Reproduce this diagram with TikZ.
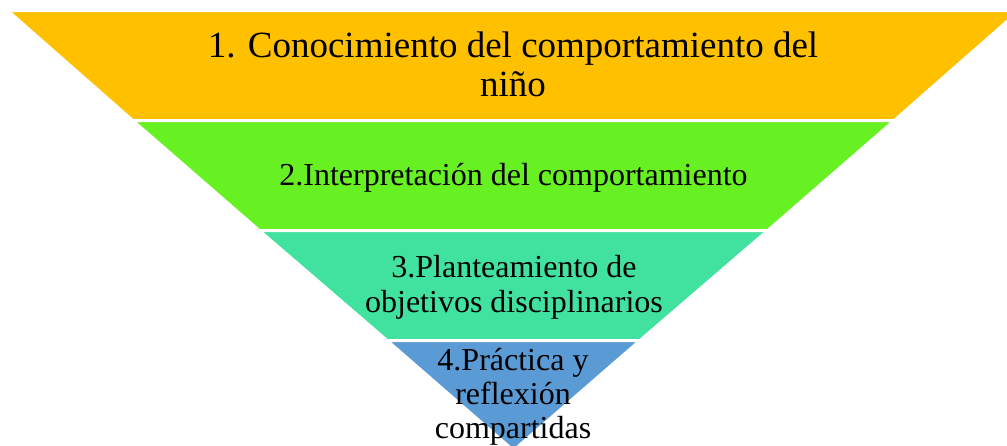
\documentclass[tikz,border=0pt]{standalone}
\usepackage{fontspec}
\setmainfont{Liberation Serif}
\definecolor{bandA}{HTML}{FFC000}
\definecolor{bandB}{HTML}{67F022}
\definecolor{bandC}{HTML}{41E29F}
\definecolor{bandD}{HTML}{5B9BD5}
\begin{document}
\begin{tikzpicture}[x=1pt,y=-1pt,
  band/.style={draw=white,line width=3pt,line join=miter},
  lbl/.style={anchor=base,align=center,inner sep=0pt,text=black}]
\useasboundingbox (0,0) rectangle (1007,445);
\clip (0,0) rectangle (1007,445);
% bands of the inverted pyramid (centre x = 513.5, half-width = 1.15*(450.5-y))
\fill[bandA,band] (7.5,10.5) -- (1019.5,10.5) -- (894.3,120.5) -- (132.7,120.5) -- cycle;
\fill[bandB,band] (132.7,120.5) -- (894.3,120.5) -- (767.8,230.5) -- (259.2,230.5) -- cycle;
\fill[bandC,band] (259.2,230.5) -- (767.8,230.5) -- (640.0,340.5) -- (387.0,340.5) -- cycle;
\fill[bandD,band] (387.0,340.5) -- (640.0,340.5) -- (513.5,450.5) -- cycle;
% labels (base anchor = baseline of the last line)
\node[lbl,font=\fontsize{37}{39}\selectfont] (t1) at (513,96) {1. Conocimiento del comportamiento del\\niño};
\node[lbl,font=\fontsize{32}{35}\selectfont] (t2) at (513.5,185) {2.Interpretación del comportamiento};
\node[lbl,font=\fontsize{32}{35}\selectfont] (t3) at (514,312) {3.Planteamiento de\\objetivos disciplinarios};
\node[lbl,font=\fontsize{32}{34}\selectfont] (t4) at (513,438) {4.Práctica y\\reflexión\\compartidas};
\end{tikzpicture}
\end{document}
